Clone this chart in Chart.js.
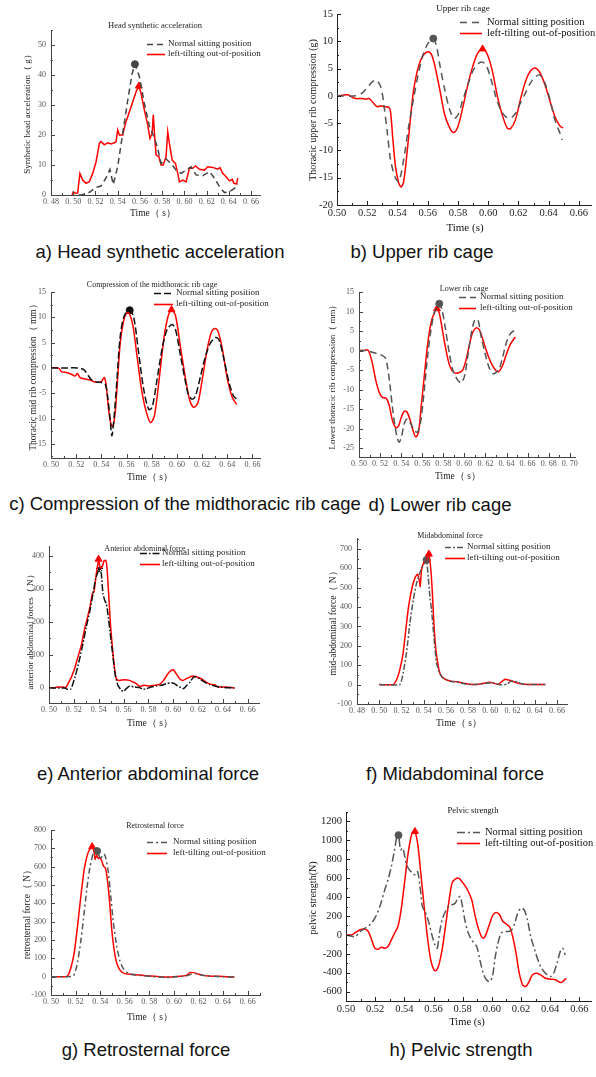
<!DOCTYPE html>
<html>
<head>
<meta charset="utf-8">
<script src="https://cdn.jsdelivr.net/npm/chart.js@4/dist/chart.umd.min.js"></script>
<style>
  body { margin: 0; background: #fff; width: 596px; height: 1077px; position: relative; overflow: hidden; }
  canvas { position: absolute; }
  .cap { position: absolute; font-family: "Liberation Sans", Arial, sans-serif; font-size: 18.5px; color: #111;
         white-space: nowrap; transform: translateX(-50%); line-height: 20px; }
</style>
</head>
<body>
<script>
// ---- data: [time (s), value] ----
const headNormal = [[0.505,0],[0.508,0],[0.515,1],[0.52,2.5],[0.525,3],[0.53,6],[0.533,8.5],[0.536,3.5],[0.54,9.5],[0.5445,20.5],[0.549,31.5],[0.553,40.5],[0.5555,43.6],[0.5595,39.5],[0.564,30.5],[0.5685,23],[0.573,19],[0.576,15.5],[0.579,10.5],[0.5835,12],[0.588,10.5],[0.5925,8.3],[0.597,7.2],[0.6015,8.3],[0.606,9.4],[0.6105,6.7],[0.6165,6.4],[0.6225,7.8],[0.627,5.6],[0.6315,2.8],[0.636,0.8],[0.6405,1.1],[0.645,2.2],[0.648,3.7]];
const headTilt = [[0.499,0],[0.5,1],[0.5025,0.5],[0.504,0.7],[0.506,7.2],[0.5085,5],[0.5115,3.9],[0.5145,4.4],[0.5175,7.2],[0.5205,11],[0.5235,17.2],[0.525,17.8],[0.528,16.7],[0.531,17.4],[0.534,17],[0.537,17.4],[0.5385,17.8],[0.54,21.7],[0.5415,20],[0.5445,20],[0.547,23.9],[0.55,27.2],[0.5535,31],[0.5565,34.4],[0.559,36.3],[0.561,33.9],[0.564,28.3],[0.567,23.3],[0.569,18.9],[0.571,20.6],[0.572,26.7],[0.5735,18.3],[0.5745,13.3],[0.577,12.8],[0.579,10],[0.581,10],[0.5835,12.8],[0.585,21.1],[0.5865,17.2],[0.589,11.7],[0.592,10.5],[0.594,7.2],[0.5955,4.4],[0.5985,5],[0.6015,4.4],[0.6045,8.9],[0.6075,8.9],[0.61,9.7],[0.6135,8.6],[0.618,8.3],[0.621,9.4],[0.6255,9.2],[0.63,8.6],[0.632,9.1],[0.6345,7.2],[0.6375,6.1],[0.6405,4.7],[0.643,5.2],[0.6445,3.9],[0.647,3.7],[0.648,5.6]];
const headPeaks = [[0.5555,43.6],[0.559,36.3]];

const upperNormal = [[0.5,0],[0.5126,0],[0.517,0.6],[0.5202,1.6],[0.5235,2.6],[0.526,2.9],[0.529,1.6],[0.531,-1.6],[0.5333,-6.8],[0.5354,-11.7],[0.5387,-15.1],[0.5409,-15.7],[0.5441,-11.7],[0.5474,-5.6],[0.5507,-0.4],[0.5539,4.2],[0.5572,7.8],[0.5604,9.7],[0.5637,10.5],[0.5659,9],[0.568,5.7],[0.5713,1.1],[0.5746,-2.6],[0.5774,-4.1],[0.58,-3.5],[0.5833,-0.7],[0.5865,2],[0.5898,4.5],[0.593,5.8],[0.5957,6.2],[0.5985,5.7],[0.6017,3.2],[0.605,-0.1],[0.6083,-2.6],[0.6115,-3.8],[0.6148,-4.1],[0.618,-3.2],[0.6213,-1.3],[0.6246,0.5],[0.6278,2.3],[0.6311,3.5],[0.6343,3.8],[0.6376,2.3],[0.6409,-0.7],[0.6441,-4.4],[0.6474,-6.8],[0.6489,-8.1]];
const upperTilt = [[0.5,0],[0.5072,0.2],[0.5104,-0.3],[0.5126,-0.5],[0.5159,-0.5],[0.5191,-0.6],[0.5213,-0.5],[0.5246,-1.5],[0.5267,-2],[0.5289,-1.8],[0.5311,-2],[0.5343,-2.1],[0.5354,-2.9],[0.537,-8.1],[0.5387,-13],[0.5409,-16],[0.5424,-16.7],[0.5441,-15.7],[0.5463,-10.5],[0.5485,-4.4],[0.5507,1.1],[0.5539,5.4],[0.5572,7.5],[0.5604,8.1],[0.5626,7.5],[0.5648,5.4],[0.568,1.1],[0.5713,-3.5],[0.5746,-5.9],[0.5772,-6.7],[0.58,-5.6],[0.5833,-2],[0.5865,2],[0.5898,5.4],[0.593,7.8],[0.5963,8.6],[0.5996,7.5],[0.6028,4.5],[0.6061,-0.1],[0.6093,-3.5],[0.6126,-5.9],[0.6148,-6],[0.618,-4.4],[0.6213,-0.7],[0.6246,2.6],[0.6278,4.5],[0.6311,5.1],[0.6343,4.2],[0.6376,2],[0.6409,-1],[0.6441,-3.8],[0.6474,-5.5],[0.6496,-5.9]];
const upperPeaks = [[0.5637,10.5],[0.5963,8.6]];

const midNormal = [[0.5,0],[0.5125,0],[0.5205,0],[0.5258,-0.3],[0.5298,-1.6],[0.5324,-2.4],[0.5364,-2.8],[0.5404,-2.9],[0.5431,-3.2],[0.5449,-5.5],[0.547,-10.2],[0.5484,-13.4],[0.5502,-9.5],[0.5524,-2.2],[0.555,6.3],[0.5582,10.3],[0.5625,11.4],[0.5657,10],[0.5696,3],[0.5736,-4.2],[0.5776,-8.2],[0.5803,-7.8],[0.5843,-2.2],[0.5882,3.7],[0.5922,7.6],[0.5962,8.6],[0.5989,7.6],[0.6029,2.4],[0.6069,-2.9],[0.6095,-5.5],[0.6122,-6.2],[0.6148,-5.5],[0.6188,-1.6],[0.6228,2.4],[0.6268,5],[0.6308,6],[0.6334,5.6],[0.6374,1.7],[0.6414,-2.9],[0.6449,-5.5],[0.6475,-6.2]];
const midTilt = [[0.5,0],[0.5058,0],[0.5085,-0.8],[0.5125,-0.9],[0.5165,-1.3],[0.5191,-1.6],[0.521,-1.1],[0.5231,-1.9],[0.5271,-2.2],[0.5311,-2.4],[0.5351,-2.8],[0.5391,-2.8],[0.5404,-2.6],[0.5423,-1.9],[0.5439,-3.6],[0.5457,-8.2],[0.5476,-11.1],[0.5492,-11.5],[0.551,-8.8],[0.5529,-2.2],[0.555,5],[0.5577,9.3],[0.5603,10.9],[0.5625,10.6],[0.5651,8.3],[0.5683,2.4],[0.5723,-4.9],[0.5758,-8.8],[0.579,-10.8],[0.5821,-9.5],[0.5856,-2.9],[0.5896,5.7],[0.5928,10],[0.5957,11.5],[0.5989,10.3],[0.6029,4],[0.6069,-2.2],[0.6103,-6.5],[0.6135,-7.8],[0.6167,-6.9],[0.6202,-2.2],[0.6241,3.7],[0.6273,7],[0.63,7.8],[0.6326,7.3],[0.6361,3.7],[0.6401,-2.2],[0.6441,-5.9],[0.6475,-7.2]];
const midPeaks = [[0.5625,11.4],[0.5957,11.5]];

const lowerNormal = [[0.5,0],[0.5063,0],[0.5111,-0.3],[0.5159,-0.7],[0.5206,-1.1],[0.5248,-1.8],[0.527,-4.1],[0.5292,-8.4],[0.5317,-14.5],[0.5343,-19.6],[0.5365,-22.6],[0.5381,-23.5],[0.5403,-22.2],[0.5429,-18.8],[0.546,-17.5],[0.5492,-18.8],[0.5524,-20.5],[0.5556,-20.9],[0.5587,-17.9],[0.5619,-10.2],[0.5651,-1.5],[0.5683,5.3],[0.5714,9.6],[0.5746,11.4],[0.5762,12],[0.5787,10.5],[0.5819,5.8],[0.5857,-0.7],[0.5895,-5.4],[0.5937,-7.6],[0.5968,-8.3],[0.6,-6.7],[0.6032,-1.5],[0.6063,4],[0.6095,7.6],[0.6127,8],[0.6159,3.6],[0.62,-1.1],[0.6238,-4.6],[0.6276,-6],[0.6308,-5.4],[0.6333,-4.6],[0.6365,-1.5],[0.6397,1.9],[0.6429,4],[0.646,4.9],[0.6486,5.2]];
const lowerTilt = [[0.5,0],[0.5048,0],[0.5073,0.2],[0.5095,-0.3],[0.5127,-3.3],[0.5159,-7.6],[0.519,-10.6],[0.5222,-12],[0.526,-12.3],[0.5286,-14],[0.5317,-17.9],[0.5349,-19.8],[0.5375,-19.4],[0.5397,-17.5],[0.5429,-15.6],[0.5454,-15.7],[0.5486,-17.9],[0.5517,-20.9],[0.554,-22.2],[0.5565,-20.9],[0.5587,-15.3],[0.5619,-6.7],[0.5651,1.5],[0.5683,7.1],[0.5714,9.6],[0.574,10.7],[0.5762,9.6],[0.5794,4.9],[0.5825,0.2],[0.5863,-4.1],[0.5905,-5.7],[0.5946,-5.7],[0.5984,-5],[0.6016,-2.4],[0.6048,1.5],[0.6079,4.6],[0.6111,5.8],[0.6143,5.3],[0.6181,2.3],[0.6222,-1.1],[0.6263,-3.7],[0.6302,-5.2],[0.6327,-5.4],[0.6359,-4.1],[0.6397,-1.1],[0.6435,1.5],[0.6476,3.2],[0.6486,3.4]];
const lowerPeaks = [[0.5762,12],[0.574,10.7]];

const antNormal = [[0.5,0],[0.5126,0],[0.5153,-5],[0.5174,-4],[0.5193,13],[0.522,48],[0.5247,89],[0.5273,134],[0.53,185],[0.5327,230],[0.5354,285],[0.5375,331],[0.5394,351],[0.5407,362],[0.5421,346],[0.5434,286],[0.5448,266],[0.5461,256],[0.5474,225],[0.5493,165],[0.5515,94],[0.5536,33],[0.5555,8],[0.5582,-7],[0.56,-10],[0.5622,-2],[0.5649,6],[0.5689,3],[0.5729,1],[0.5756,-4],[0.5783,-2],[0.5823,3],[0.5863,6],[0.5903,8],[0.5943,13],[0.5984,16],[0.601,13],[0.6037,6],[0.6064,1],[0.6083,-2],[0.611,8],[0.6136,18],[0.6158,31],[0.6185,35],[0.6211,28],[0.6252,18],[0.6292,10],[0.6332,6],[0.6372,3],[0.6426,1],[0.6493,0]];
const antTilt = [[0.5,0],[0.5046,1],[0.5086,3],[0.5113,3],[0.5134,1],[0.5153,13],[0.518,33],[0.5206,59],[0.5233,94],[0.526,129],[0.5287,180],[0.5314,220],[0.5332,250],[0.5348,285],[0.5362,291],[0.5381,346],[0.5399,386],[0.5413,362],[0.5429,367],[0.5442,385],[0.5456,387],[0.5466,367],[0.548,286],[0.5496,185],[0.5515,104],[0.5533,43],[0.5547,25],[0.5568,23],[0.5608,25],[0.5649,23],[0.5675,18],[0.5702,13],[0.5729,5],[0.5769,8],[0.5809,6],[0.585,8],[0.589,11],[0.5922,23],[0.5957,43],[0.5984,53],[0.6002,55],[0.6024,43],[0.6051,28],[0.6077,23],[0.6104,28],[0.6131,33],[0.6158,36],[0.619,33],[0.6225,28],[0.6265,18],[0.6305,11],[0.6332,10],[0.6359,3],[0.6426,3],[0.6493,0]];
const antPeaks = [[0.5407,362],[0.5399,390]];

const midAbNormal = [[0.5,0],[0.5185,0],[0.5215,58],[0.5245,162],[0.5276,316],[0.5306,436],[0.5336,523],[0.536,566],[0.5381,600],[0.5411,626],[0.5426,643],[0.5441,557],[0.5456,454],[0.5471,385],[0.5492,248],[0.5516,110],[0.554,67],[0.5562,41],[0.5607,24],[0.5652,15],[0.5697,15],[0.5742,7],[0.5787,2],[0.5848,0],[0.5908,3],[0.5968,7],[0.6013,10],[0.6058,3],[0.6103,-2],[0.6149,2],[0.6179,15],[0.6209,19],[0.6254,10],[0.6299,2],[0.6389,0],[0.6495,0]];
const midAbTilt = [[0.5,0],[0.5125,0],[0.5155,24],[0.5185,76],[0.5215,162],[0.5239,282],[0.526,385],[0.5282,462],[0.5306,523],[0.5327,557],[0.5345,569],[0.536,540],[0.5369,506],[0.5381,592],[0.5402,630],[0.542,635],[0.5435,661],[0.5447,673],[0.5462,609],[0.5477,488],[0.5492,316],[0.551,179],[0.5532,93],[0.5553,50],[0.5592,28],[0.5637,19],[0.5697,15],[0.5757,7],[0.5802,3],[0.5848,0],[0.5908,3],[0.5968,10],[0.5998,12],[0.6028,7],[0.6073,2],[0.6103,15],[0.6134,28],[0.6164,24],[0.6209,15],[0.6254,7],[0.6299,2],[0.6495,0]];
const midAbPeaks = [[0.5426,643],[0.5447,673]];

const retroNormal = [[0.5,0],[0.513,0],[0.5183,4],[0.521,58],[0.5237,167],[0.5264,313],[0.5291,476],[0.5318,604],[0.5345,676],[0.5364,690],[0.5386,667],[0.5405,640],[0.5421,667],[0.5434,667],[0.5448,640],[0.5467,567],[0.5486,440],[0.5507,295],[0.5534,167],[0.5561,85],[0.5588,44],[0.5629,18],[0.5669,11],[0.5723,7],[0.5777,4],[0.5831,0],[0.5885,-2],[0.5939,-5],[0.5993,-2],[0.6047,0],[0.6101,4],[0.6141,13],[0.6182,16],[0.6222,9],[0.6276,4],[0.6371,0],[0.6492,-2]];
const retroTilt = [[0.5,0],[0.5116,0],[0.5138,7],[0.5162,49],[0.5189,131],[0.5216,276],[0.5243,440],[0.527,585],[0.5297,667],[0.5318,698],[0.5335,709],[0.5351,680],[0.5359,640],[0.5372,662],[0.5386,644],[0.5399,649],[0.5413,631],[0.5426,604],[0.544,595],[0.5453,558],[0.5475,422],[0.5494,258],[0.5513,149],[0.5534,76],[0.5561,36],[0.5594,18],[0.5642,13],[0.5696,11],[0.575,7],[0.5804,4],[0.5885,0],[0.5966,-2],[0.6047,2],[0.6101,7],[0.6128,22],[0.616,22],[0.6195,15],[0.6236,7],[0.6276,4],[0.6371,2],[0.6492,-2]];
const retroPeaks = [[0.5375,685],[0.5335,709]];

const pelvicNormal = [[0.5,0],[0.5029,-10],[0.5063,-18],[0.5097,35],[0.5131,70],[0.5164,106],[0.5198,176],[0.5232,300],[0.5266,477],[0.5288,582],[0.5311,724],[0.5333,900],[0.5349,1041],[0.536,1059],[0.5374,900],[0.5389,918],[0.5403,830],[0.5416,741],[0.5434,688],[0.5457,653],[0.5475,635],[0.5491,670],[0.5513,441],[0.5524,300],[0.5547,229],[0.5569,124],[0.5592,-18],[0.5614,-124],[0.5626,-141],[0.5641,18],[0.5659,159],[0.5682,247],[0.5704,307],[0.5727,318],[0.5749,335],[0.5767,388],[0.5783,406],[0.5799,300],[0.5817,141],[0.5839,18],[0.5862,-53],[0.5896,-124],[0.5918,-265],[0.5941,-406],[0.5963,-476],[0.5986,-494],[0.6004,-441],[0.6024,-229],[0.6042,-88],[0.6064,18],[0.6087,35],[0.6109,35],[0.6132,46],[0.6154,106],[0.6177,229],[0.6199,282],[0.6222,265],[0.6244,159],[0.6267,-18],[0.6301,-194],[0.6334,-335],[0.6368,-406],[0.6402,-441],[0.6424,-406],[0.6447,-300],[0.6469,-176],[0.6485,-141],[0.6503,-212]];
const pelvicTilt = [[0.5,0],[0.5041,0],[0.5074,35],[0.5108,60],[0.5131,60],[0.5153,35],[0.5176,-53],[0.5198,-141],[0.522,-152],[0.5243,-131],[0.5266,-141],[0.5288,-124],[0.5311,-53],[0.5333,18],[0.5356,88],[0.5378,265],[0.5401,547],[0.5423,830],[0.5446,1041],[0.5461,1094],[0.5473,1094],[0.5491,971],[0.5513,653],[0.5536,300],[0.5558,-18],[0.5581,-265],[0.5603,-371],[0.5619,-378],[0.5637,-318],[0.5659,-159],[0.5682,88],[0.5704,335],[0.5727,547],[0.5749,589],[0.5772,600],[0.5794,565],[0.5817,519],[0.5839,459],[0.5862,371],[0.5884,212],[0.5907,71],[0.5929,-18],[0.5945,-35],[0.5963,18],[0.5986,124],[0.6008,212],[0.6031,236],[0.6053,212],[0.6076,141],[0.6098,116],[0.6121,88],[0.6143,-18],[0.6166,-194],[0.6188,-406],[0.6211,-529],[0.6233,-547],[0.6256,-494],[0.6278,-424],[0.6307,-406],[0.6334,-424],[0.6368,-459],[0.6402,-469],[0.6436,-476],[0.6469,-504],[0.6487,-494],[0.651,-459]];
const pelvicPeaks = [[0.536,1055],[0.5473,1094]];

// tick values
const timeTicks48 = [0.48,0.50,0.52,0.54,0.56,0.58,0.60,0.62,0.64,0.66];
const timeTicks50 = [0.50,0.52,0.54,0.56,0.58,0.60,0.62,0.64,0.66];
const timeTicks70 = [0.50,0.52,0.54,0.56,0.58,0.60,0.62,0.64,0.66,0.68,0.70];
const headTicks = [0,10,20,30,40,50];
const upperTicks = [-20,-15,-10,-5,0,5,10,15];
const midTicks = [-15,-10,-5,0,5,10,15];
const lowerTicks = [-25,-20,-15,-10,-5,0,5,10,15];
const antTicks = [0,100,200,300,400];
const midAbTicks = [-100,0,100,200,300,400,500,600,700];
const retroTicks = [-100,0,100,200,300,400,500,600,700,800];
const pelvicTicks = [-600,-400,-200,0,200,400,600,800,1000,1200];

const legendNames = ['Normal sitting position', 'left-tilting out-of-position'];
const RED = '#ff0000';

// looks: 'cn' = small grey labels "0. 50", 'en' = larger dark labels "0.50"
const looks = {
  cn: { tick: 8, tickColor: '#555', axis: '#444', text: '#222', xPad: 2, yPad: 5, fmt: v => v.toFixed(2).replace('.', '. ') },
  en: { tick: 10.5, tickColor: '#222', axis: '#222', text: '#111', xPad: 2, yPad: 4, fmt: v => v.toFixed(2) }
};

const panels = [
  { box:[0,0,298,236], plot:[51,30,260,195], x:[0.48,0.668], y:[0,55], look:'cn',
    xTicks: timeTicks48, yTicks: headTicks, normal: headNormal, tilt: headTilt, peaks: headPeaks,
    nColor:'#444', nDash:[6,4], nMark:'circle', tension:0,
    title:['Head synthetic acceleration',155,26,8.5], legend:[147,165,168,44,54,9],
    yLabel:['Synthetic head acceleration\uFF08 g\uFF09',28,112,9], xLabel:['Time\uFF08 s\uFF09',153,213,9.5],
    caption:['a) Head synthetic acceleration',160,242] },
  { box:[298,0,298,236], plot:[337,14,595,205], x:[0.5,0.668], y:[-20,15], look:'en',
    xTicks: timeTicks50, yTicks: upperTicks, normal: upperNormal, tilt: upperTilt, peaks: upperPeaks,
    nColor:'#555', nDash:[7,5], nMark:'circle', tension:0.3,
    title:['Upper rib cage',463,9,9], legend:[460,482,487,22,33,10.5],
    yLabel:['Thoracic upper rib compression (g)',313,110,10], xLabel:['Time (s)',465,228,11],
    caption:['b) Upper rib cage',422,242] },
  { box:[0,270,298,220], plot:[51,292,260,458], x:[0.5,0.666], y:[-17.8,15], look:'cn',
    xTicks: timeTicks50, yTicks: midTicks, normal: midNormal, tilt: midTilt, peaks: midPeaks,
    nColor:'#111', nDash:[7,3], nMark:'circle', tension:0.3,
    title:['Compression of the midthoracic rib cage',152,285,8], legend:[154,173,176,293,304,9],
    yLabel:['Thoracic mid rib compression\uFF08 mm\uFF09',33,375,9.5], xLabel:['Time\uFF08 s\uFF09',150,477,9.5],
    caption:['c) Compression of the midthoracic rib cage',185,494] },
  { box:[298,270,298,220], plot:[359,292,575,457], x:[0.5,0.705], y:[-27.3,15], look:'cn',
    xTicks: timeTicks70, yTicks: lowerTicks, normal: lowerNormal, tilt: lowerTilt, peaks: lowerPeaks,
    nColor:'#555', nDash:[7,4], nMark:'circle', tension:0.3,
    title:['Lower rib cage',464,289,8], legend:[459,476,480,297,308,9],
    yLabel:['Lower thoracic rib compression\uFF08 mm\uFF09',333,375,9], xLabel:['Time\uFF08 s\uFF09',458,476,9.5],
    caption:['d) Lower rib cage',440,495] },
  { box:[0,530,298,205], plot:[49,546,259,703], x:[0.5,0.669], y:[-45.5,430], look:'cn',
    xTicks: timeTicks50, yTicks: antTicks, normal: antNormal, tilt: antTilt, peaks: antPeaks,
    nColor:'#111', nDash:[7,2,1.5,2], nMark:'star', tension:0.15,
    title:['Anterior abdominal force',145,549,8], legend:[140,160,162,553,564,9],
    yLabel:['anterior abdominal forces\uFF08 N\uFF09',31,630,9], xLabel:['Time\uFF08 s\uFF09',150,723,9.5],
    caption:['e) Anterior abdominal force',148,764] },
  { box:[298,530,298,205], plot:[357,538,567,704], x:[0.48,0.669], y:[-100,756], look:'cn',
    xTicks: timeTicks48, yTicks: midAbTicks, normal: midAbNormal, tilt: midAbTilt, peaks: midAbPeaks,
    nColor:'#555', nDash:[6,2,2,2], nMark:'circle', tension:0.15,
    title:['Midabdominal force',450,536,8], legend:[445,465,467,547,558,9],
    yLabel:['mid-abdominal force\uFF08 N\uFF09',333,621,9.5], xLabel:['Time\uFF08 s\uFF09',459,723,9.5],
    caption:['f) Midabdominal force',455,764] },
  { box:[0,795,298,240], plot:[51,830,260,995], x:[0.5,0.67], y:[-100,800], look:'cn',
    xTicks: timeTicks50, yTicks: retroTicks, normal: retroNormal, tilt: retroTilt, peaks: retroPeaks,
    nColor:'#555', nDash:[6,3,2,3], nMark:'circle', tension:0.15,
    title:['Retrosternal force',155,826,8], legend:[147,167,173,842,853,9],
    yLabel:['retrosternal force\uFF08 N\uFF09',27,912,9.5], xLabel:['Time\uFF08 s\uFF09',150,1017,9.5],
    caption:['g) Retrosternal force',146,1040] },
  { box:[298,795,298,240], plot:[346,812,595,1001], x:[0.5,0.668], y:[-700,1300], look:'en',
    xTicks: timeTicks50, yTicks: pelvicTicks, normal: pelvicNormal, tilt: pelvicTilt, peaks: pelvicPeaks,
    nColor:'#555', nDash:[8,3,2,3], nMark:'circle', tension:0.3,
    title:['Pelvic strength',473,811,8.5], legend:[457,480,485,832,843,10.5],
    yLabel:['pelvic strength(N)',313,898,10], xLabel:['Time (s)',467,1022,10.5],
    caption:['h) Pelvic strength',461,1040] }
];

const SERIF = '"Liberation Serif", "Times New Roman", serif';
const pts = arr => arr.map(([x, y]) => ({ x, y }));

// inward ticks, title, legend and axis titles
function decoPlugin(p) {
  const lk = looks[p.look];
  return {
    id: 'deco',
    afterDraw(chart) {
      const ctx = chart.ctx, xs = chart.scales.x, ys = chart.scales.y;
      const ca = chart.chartArea, ox = p.box[0], oy = p.box[1];
      ctx.save();
      ctx.strokeStyle = lk.axis;
      ctx.lineWidth = 1;
      ctx.beginPath();
      const xStep = p.xTicks[1] - p.xTicks[0], yStep = p.yTicks[1] - p.yTicks[0];
      const xMarks = [], yMarks = [];
      p.xTicks.forEach(v => { xMarks.push([v, 4]); if (v + xStep / 2 <= xs.max) xMarks.push([v + xStep / 2, 2]); });
      if (p.xTicks[0] - xStep / 2 >= xs.min) xMarks.push([p.xTicks[0] - xStep / 2, 2]);
      p.yTicks.forEach(v => { yMarks.push([v, 4]); if (v + yStep / 2 <= ys.max) yMarks.push([v + yStep / 2, 2]); });
      if (p.yTicks[0] - yStep / 2 >= ys.min) yMarks.push([p.yTicks[0] - yStep / 2, 2]);
      xMarks.forEach(([v, len]) => {
        const px = Math.round(xs.getPixelForValue(v)) + 0.5;
        ctx.moveTo(px, ca.bottom); ctx.lineTo(px, ca.bottom - len);
      });
      yMarks.forEach(([v, len]) => {
        const py = Math.round(ys.getPixelForValue(v)) + 0.5;
        ctx.moveTo(ca.left, py); ctx.lineTo(ca.left + len, py);
      });
      ctx.stroke();

      ctx.fillStyle = lk.text;
      ctx.textBaseline = 'middle';
      // title
      const [tt, tx, ty, tf] = p.title;
      ctx.font = tf + 'px ' + SERIF;
      ctx.textAlign = 'center';
      ctx.fillText(tt, tx - ox, ty - oy);
      // legend
      const [l0, l1, lt, r0, r1, lf] = p.legend;
      const ds = chart.data.datasets;
      [[ds[0], r0], [ds[1], r1]].forEach(([d, ry]) => {
        ctx.save();
        ctx.strokeStyle = d.borderColor;
        ctx.lineWidth = 1.6;
        ctx.setLineDash(d.borderDash || []);
        ctx.beginPath();
        ctx.moveTo(l0 - ox, ry - oy + 0.5); ctx.lineTo(l1 - ox, ry - oy + 0.5);
        ctx.stroke();
        ctx.restore();
        ctx.font = lf + 'px ' + SERIF;
        ctx.textAlign = 'left';
        ctx.fillText(d.label, lt - ox, ry - oy);
      });
      // axis titles
      const [xt, xx, xy, xf] = p.xLabel;
      ctx.font = xf + 'px ' + SERIF;
      ctx.textAlign = 'center';
      ctx.fillText(xt, xx - ox, xy - oy);
      const [yt, yx, yy, yf] = p.yLabel;
      ctx.translate(yx - ox, yy - oy);
      ctx.rotate(-Math.PI / 2);
      ctx.font = yf + 'px ' + SERIF;
      ctx.fillText(yt, 0, 0);
      ctx.restore();
    }
  };
}

function build(p) {
  const lk = looks[p.look];
  const [bl, bt, bw, bh] = p.box;
  const [pl, pt, pr, pb] = p.plot;
  const yw = pl - bl, padTop = pt - bt, padRight = bl + bw - pr, xh = bt + bh - pb;

  const cv = document.createElement('canvas');
  cv.width = bw; cv.height = bh;
  cv.style.left = bl + 'px'; cv.style.top = bt + 'px';
  cv.style.width = bw + 'px'; cv.style.height = bh + 'px';
  document.body.appendChild(cv);

  const cap = document.createElement('div');
  cap.className = 'cap';
  cap.textContent = p.caption[0];
  cap.style.left = p.caption[1] + 'px';
  cap.style.top = p.caption[2] + 'px';
  document.body.appendChild(cap);

  new Chart(cv.getContext('2d'), {
    type: 'line',
    data: {
      datasets: [
        { label: legendNames[0], data: pts(p.normal), borderColor: p.nColor, borderDash: p.nDash,
          borderWidth: 1.5, pointRadius: 0, tension: p.tension, fill: false },
        { label: legendNames[1], data: pts(p.tilt), borderColor: RED,
          borderWidth: 1.5, pointRadius: 0, tension: p.tension, fill: false },
        { label: 'peak1', data: pts([p.peaks[0]]), showLine: false, pointStyle: p.nMark,
          pointRadius: 3.5, backgroundColor: p.nColor, borderColor: p.nColor, borderWidth: 1 },
        { label: 'peak2', data: pts([p.peaks[1]]), showLine: false, pointStyle: 'triangle',
          pointRadius: 4, backgroundColor: RED, borderColor: RED, borderWidth: 1 }
      ]
    },
    options: {
      responsive: false,
      animation: false,
      devicePixelRatio: 1,
      events: [],
      layout: { padding: { left: 0, top: padTop, right: padRight, bottom: 0 } },
      plugins: { legend: { display: false }, tooltip: { enabled: false }, title: { display: false } },
      scales: {
        x: {
          type: 'linear', min: p.x[0], max: p.x[1],
          afterBuildTicks: s => { s.ticks = p.xTicks.map(v => ({ value: v })); },
          afterFit: s => { s.height = xh; s.paddingLeft = 0; s.paddingRight = 0; },
          grid: { display: false, drawTicks: false },
          border: { display: true, color: lk.axis, width: 1 },
          ticks: { autoSkip: false, maxRotation: 0, padding: lk.xPad, color: lk.tickColor,
                   font: { family: SERIF, size: lk.tick }, callback: v => lk.fmt(v) }
        },
        y: {
          type: 'linear', min: p.y[0], max: p.y[1],
          afterBuildTicks: s => { s.ticks = p.yTicks.map(v => ({ value: v })); },
          afterFit: s => { s.width = yw; s.paddingTop = 0; s.paddingBottom = 0; },
          grid: { display: false, drawTicks: false },
          border: { display: true, color: lk.axis, width: 1 },
          ticks: { padding: lk.yPad, color: lk.tickColor, font: { family: SERIF, size: lk.tick },
                   callback: v => String(v) }
        }
      }
    },
    plugins: [decoPlugin(p)]
  });
}

panels.forEach(build);
</script>
</body>
</html>
